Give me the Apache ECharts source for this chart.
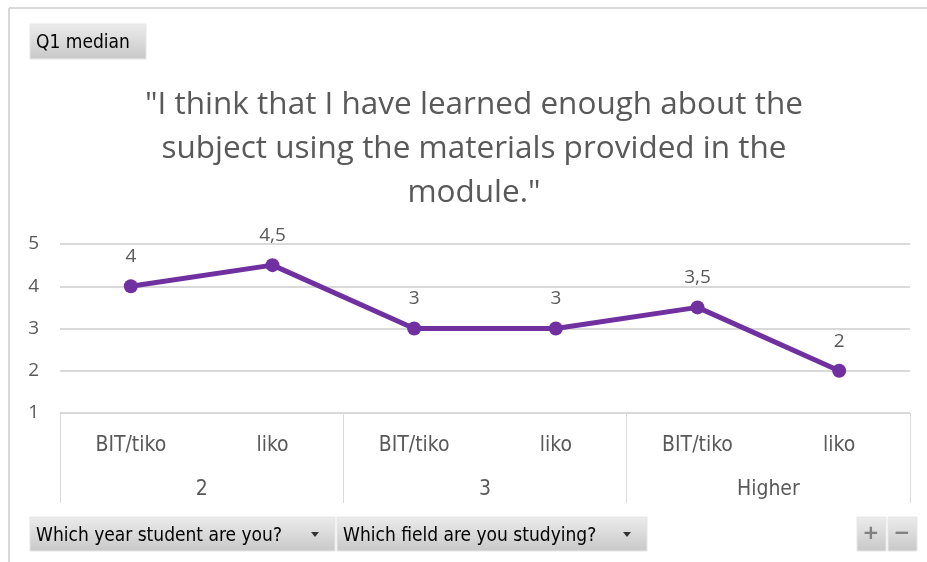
<!DOCTYPE html>
<html lang="en">
<head>
<meta charset="UTF-8">
<title>Q1 median</title>
<script src="https://cdn.jsdelivr.net/npm/echarts@6/dist/echarts.min.js"></script>
<style>
  html, body { margin: 0; padding: 0; background: #fff; }
  #chart { width: 927px; height: 562px; }
</style>
</head>
<body>
<div id="chart"></div>
<script>
var fields = ['BIT/tiko', 'liko', 'BIT/tiko', 'liko', 'BIT/tiko', 'liko'];
var years = ['2', '3', 'Higher'];
var medians = [4, 4.5, 3, 3, 3.5, 2];
var yTicks = [1, 2, 3, 4, 5];

var titleText = '"I think that I have learned enough about the\nsubject using the materials provided in the\nmodule."';

var btnFill = {
  type: 'linear', x: 0, y: 0, x2: 0, y2: 1,
  colorStops: [{ offset: 0, color: '#ececec' }, { offset: 1, color: '#c8c8c8' }]
};
var btnFont = '19px "DejaVu Sans Condensed", sans-serif';

function button(x, y, w, h, label, arrow) {
  var kids = [
    { type: 'rect', shape: { x: x, y: y, width: w, height: h }, style: { fill: btnFill, stroke: '#e6e6e6', lineWidth: 1 } },
    { type: 'text', x: x + 6, y: y + h / 2 + 2, style: { text: label, font: btnFont, fill: '#000', textVerticalAlign: 'middle' } }
  ];
  if (arrow) {
    kids.push({ type: 'polygon', shape: { points: [[x + w - 24, y + h / 2 - 2], [x + w - 16, y + h / 2 - 2], [x + w - 20, y + h / 2 + 3]] }, style: { fill: '#333' } });
  }
  return { type: 'group', children: kids };
}

var chart = echarts.init(document.getElementById('chart'));
var option = {
  animation: false,
  title: {
    text: titleText,
    left: 474,
    top: 78,
    padding: [5, 0, 5, 0],
    textAlign: 'center',
    textStyle: { fontFamily: 'Open Sans', fontSize: 31.5, fontWeight: 'normal', color: '#595959', lineHeight: 44 }
  },
  grid: { left: 60, right: 17, top: 244, bottom: 149, containLabel: false },
  xAxis: [
    {
      type: 'category',
      data: fields,
      position: 'bottom',
      boundaryGap: true,
      axisLine: { show: true, lineStyle: { color: '#d9d9d9', width: 1 } },
      axisTick: { show: false },
      axisLabel: { margin: 22, fontFamily: 'DejaVu Sans Condensed', fontSize: 21, color: '#595959', interval: 0 }
    },
    {
      type: 'category',
      data: years,
      position: 'bottom',
      boundaryGap: true,
      axisLine: { show: false },
      axisTick: { show: true, length: 90, lineStyle: { color: '#d9d9d9', width: 1 } },
      axisLabel: { margin: 66, fontFamily: 'DejaVu Sans Condensed', fontSize: 21, color: '#595959', interval: 0 }
    }
  ],
  yAxis: {
    type: 'value',
    min: yTicks[0],
    max: yTicks[yTicks.length - 1],
    interval: 1,
    axisLine: { show: false },
    axisTick: { show: false },
    splitLine: { lineStyle: { color: '#d9d9d9', width: 2 } },
    axisLabel: { margin: 21, fontFamily: 'Open Sans', fontSize: 19, color: '#595959' }
  },
  series: [{
    type: 'line',
    xAxisIndex: 0,
    data: medians,
    symbol: 'circle',
    symbolSize: 14,
    lineStyle: { color: '#7030a0', width: 5 },
    itemStyle: { color: '#7030a0' },
    label: {
      show: true,
      position: 'top',
      distance: 13,
      fontFamily: 'Open Sans',
      fontSize: 19,
      color: '#595959',
      formatter: function (p) { return String(p.value).replace('.', ','); }
    }
  }],
  graphic: [
    { type: 'line', shape: { x1: 9, y1: 8, x2: 927, y2: 8 }, style: { stroke: '#d9d9d9', lineWidth: 2 } },
    { type: 'line', shape: { x1: 9, y1: 8, x2: 9, y2: 562 }, style: { stroke: '#d9d9d9', lineWidth: 2 } },
    button(30, 24, 116, 35, 'Q1 median', false),
    button(30, 517, 305, 34, 'Which year student are you?', true),
    button(337, 517, 310, 34, 'Which field are you studying?', true),
    { type: 'rect', shape: { x: 857, y: 517, width: 29, height: 34 }, style: { fill: btnFill, stroke: '#e6e6e6' } },
    { type: 'rect', shape: { x: 888, y: 517, width: 29, height: 34 }, style: { fill: btnFill, stroke: '#e6e6e6' } },
    { type: 'text', x: 871, y: 534, style: { text: '+', font: 'bold 20px "DejaVu Sans"', fill: '#808080', textAlign: 'center', textVerticalAlign: 'middle' } },
    { type: 'text', x: 902, y: 534, style: { text: '\u2212', font: 'bold 20px "DejaVu Sans"', fill: '#808080', textAlign: 'center', textVerticalAlign: 'middle' } }
  ]
};
chart.setOption(option);
</script>
</body>
</html>
